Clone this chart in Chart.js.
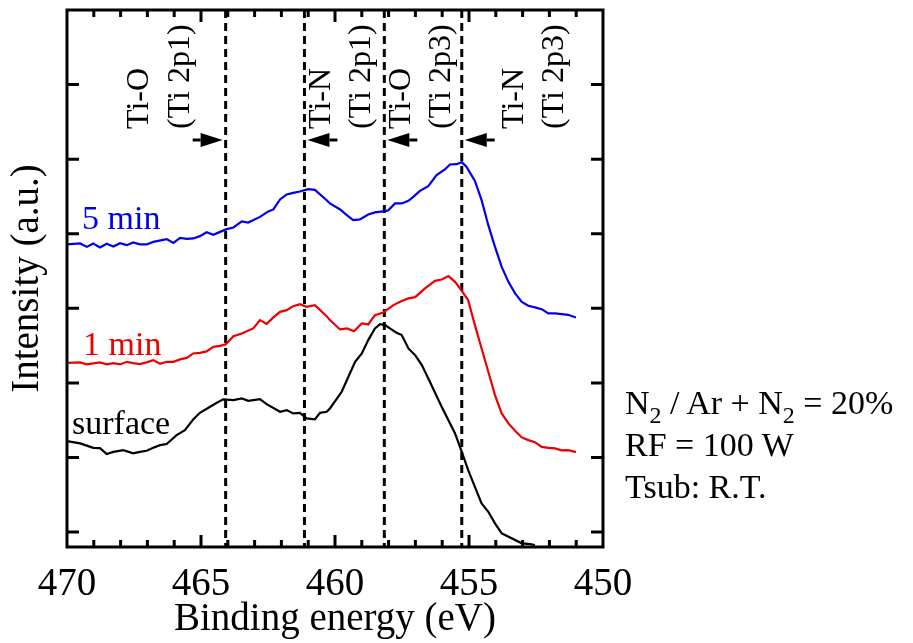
<!DOCTYPE html>
<html>
<head>
<meta charset="utf-8">
<script src="https://cdn.jsdelivr.net/npm/chart.js@4.4.1/dist/chart.umd.min.js"></script>
<style>
  html, body { margin: 0; padding: 0; background: #fff; }
  #wrap { position: relative; width: 913px; height: 643px; }
  #conditions {
    position: absolute; left: 625px; top: 382px;
    font: 34px 'Liberation Serif', 'Times New Roman', serif;
    line-height: 42px; color: #000; white-space: nowrap;
  }
  #conditions sub { font-size: 24px; vertical-align: -9px; line-height: 0; }
</style>
</head>
<body>
<div id="wrap">
  <canvas id="xpsChart" width="913" height="643"></canvas>
  <div id="conditions">N<sub>2</sub> / Ar + N<sub>2</sub> = 20%<br>RF = 100 W<br>Tsub: R.T.</div>
</div>
<script>
// Ti 2p spectra, binding energy (eV) vs intensity (a.u., offset per curve)
const energy5min = [470.00, 469.51, 469.26, 469.02, 468.77, 468.52, 468.27, 468.02, 467.77, 467.53, 467.28, 467.03, 466.78, 466.28, 466.03, 465.78, 465.53, 465.29, 465.04, 464.79, 464.54, 464.29, 464.04, 463.79, 463.48, 463.24, 462.80, 462.49, 462.30, 462.05, 461.80, 461.56, 461.31, 461.00, 460.75, 460.31, 460.19, 459.81, 459.56, 459.32, 459.07, 458.76, 458.51, 458.13, 458.01, 457.76, 457.51, 457.26, 457.08, 456.83, 456.52, 456.21, 455.90, 455.71, 455.46, 455.27, 455.09, 454.78, 454.53, 454.28, 454.03, 453.78, 453.53, 453.28, 453.03, 452.79, 452.54, 452.29, 452.04, 451.79, 451.54, 451.30, 451.01];
const intensity5min = [3.857, 3.870, 3.824, 3.870, 3.816, 3.865, 3.830, 3.874, 3.847, 3.883, 3.857, 3.857, 3.891, 3.928, 3.878, 3.945, 3.932, 3.937, 3.968, 4.021, 3.985, 4.025, 4.062, 4.084, 4.165, 4.151, 4.226, 4.299, 4.326, 4.460, 4.527, 4.548, 4.567, 4.598, 4.588, 4.450, 4.406, 4.326, 4.249, 4.182, 4.192, 4.259, 4.286, 4.303, 4.316, 4.406, 4.406, 4.441, 4.495, 4.575, 4.638, 4.786, 4.862, 4.929, 4.933, 4.960, 4.897, 4.709, 4.450, 4.115, 3.824, 3.556, 3.355, 3.200, 3.087, 3.034, 3.012, 2.989, 2.932, 2.932, 2.922, 2.913, 2.878];

const energy1min = [470.00, 469.51, 469.26, 469.02, 468.77, 468.52, 468.27, 468.02, 467.77, 467.53, 467.28, 467.03, 466.78, 466.53, 466.28, 466.03, 465.78, 465.53, 465.29, 465.04, 464.79, 464.54, 464.29, 464.08, 463.79, 463.48, 463.05, 462.80, 462.55, 462.30, 462.05, 461.80, 461.56, 461.31, 461.06, 460.75, 460.31, 460.19, 459.81, 459.56, 459.29, 459.00, 458.76, 458.51, 458.20, 457.82, 457.51, 457.26, 457.01, 456.64, 456.27, 456.02, 455.77, 455.52, 455.27, 455.03, 454.78, 454.53, 454.28, 454.03, 453.78, 453.53, 453.28, 453.03, 452.79, 452.54, 452.29, 452.04, 451.79, 451.54, 451.30, 451.01];
const intensity1min = [2.269, 2.275, 2.248, 2.261, 2.275, 2.248, 2.265, 2.248, 2.283, 2.265, 2.252, 2.275, 2.306, 2.256, 2.283, 2.283, 2.315, 2.336, 2.395, 2.403, 2.422, 2.484, 2.497, 2.516, 2.627, 2.663, 2.731, 2.842, 2.792, 2.878, 2.953, 2.976, 3.029, 3.056, 3.020, 3.043, 2.895, 2.842, 2.717, 2.731, 2.694, 2.798, 2.784, 2.909, 2.945, 3.043, 3.097, 3.133, 3.150, 3.267, 3.369, 3.387, 3.432, 3.355, 3.235, 3.110, 2.775, 2.462, 2.149, 1.836, 1.591, 1.457, 1.358, 1.269, 1.233, 1.206, 1.143, 1.130, 1.122, 1.095, 1.099, 1.072];

const energySurface = [470.00, 469.51, 469.02, 468.77, 468.52, 468.27, 467.90, 467.53, 467.28, 467.03, 466.78, 466.53, 466.28, 465.91, 465.60, 465.29, 465.04, 464.66, 464.41, 464.17, 463.79, 463.48, 463.24, 462.80, 462.55, 462.05, 461.80, 461.56, 461.31, 461.06, 460.75, 460.56, 460.31, 460.19, 459.75, 459.50, 459.25, 459.00, 458.76, 458.51, 458.32, 458.13, 457.95, 457.70, 457.51, 457.26, 457.01, 456.76, 456.46, 456.02, 455.52, 455.27, 455.03, 454.78, 454.53, 454.28, 454.03, 453.78, 453.41, 453.03, 452.72, 452.54];
const intensitySurface = [1.220, 1.189, 1.130, 1.126, 1.046, 1.076, 1.099, 1.055, 1.076, 1.090, 1.130, 1.166, 1.180, 1.300, 1.367, 1.511, 1.599, 1.680, 1.733, 1.779, 1.769, 1.792, 1.760, 1.783, 1.716, 1.613, 1.635, 1.591, 1.599, 1.524, 1.511, 1.599, 1.613, 1.658, 1.881, 2.082, 2.283, 2.395, 2.574, 2.731, 2.788, 2.775, 2.731, 2.672, 2.641, 2.462, 2.373, 2.239, 2.015, 1.680, 1.323, 1.076, 0.831, 0.607, 0.385, 0.272, 0.117, -0.017, -0.084, -0.151, -0.161, -0.174];

// reference peak positions (dashed lines)
const peakPositions = [464.08, 461.14, 458.16, 455.27];
const peakLabels = [['Ti-O', '(Ti 2p1)'], ['Ti-N', '(Ti 2p1)'], ['Ti-O', '(Ti 2p3)'], ['Ti-N', '(Ti 2p3)']];

const seriesNames = ['5 min', '1 min', 'surface'];
const seriesColors = ['#0000ee', '#ee0000', '#000000'];

const FONT = "'Liberation Serif', 'Times New Roman', serif";
Chart.defaults.font.family = FONT;
Chart.defaults.color = '#000';

const toPoints = (xs, ys) => xs.map((e, i) => ({ x: e, y: ys[i] }));

const curves = [
    toPoints(energy5min, intensity5min),
    toPoints(energy1min, intensity1min),
    toPoints(energySurface, intensitySurface)
].map((data, i) => ({
    label: seriesNames[i],
    data: data,
    borderColor: seriesColors[i],
    borderWidth: 2.2,
    pointRadius: 0,
    tension: 0,
    fill: false
}));

const Y_MIN = -0.2, Y_MAX = 7.0;

const peakLines = peakPositions.map(p => ({
    label: 'peak ' + p,
    data: [{ x: p, y: Y_MAX }, { x: p, y: Y_MIN }],
    borderColor: '#000',
    borderWidth: 3,
    borderDash: [8, 5],
    pointRadius: 0,
    fill: false
}));

// frame, inward ticks, arrows and text annotations
const decorations = {
    id: 'decorations',
    afterDatasetsDraw(chart) {
        const { ctx, chartArea: a, scales: { x, y } } = chart;
        ctx.save();

        ctx.strokeStyle = '#000';
        ctx.lineWidth = 3;
        ctx.strokeRect(a.left, a.top, a.right - a.left, a.bottom - a.top);

        ctx.beginPath();
        for (let e = 451; e < 470; e++) {
            const px = x.getPixelForValue(e);
            const len = e % 5 === 0 ? 12 : 7;
            ctx.moveTo(px, a.bottom); ctx.lineTo(px, a.bottom - len);
            ctx.moveTo(px, a.top); ctx.lineTo(px, a.top + len);
        }
        for (let v = 0; v <= 6; v++) {
            const py = y.getPixelForValue(v);
            ctx.moveTo(a.left, py); ctx.lineTo(a.left + 12, py);
            ctx.moveTo(a.right, py); ctx.lineTo(a.right - 12, py);
        }
        ctx.stroke();

        // arrows next to each dashed line; first one points right, others left
        const arrowY = 140;
        const textOffsets = [[-78, -37], [26, 66], [26, 66], [61, 101]];
        ctx.fillStyle = '#000';
        ctx.font = '32px ' + FONT;
        peakPositions.forEach((p, i) => {
            const px = x.getPixelForValue(p);
            const dir = i === 0 ? 1 : -1;
            const tip = px - dir * 3;
            const base = tip - dir * 22;
            const tail = tip - dir * 30;
            ctx.beginPath();
            ctx.moveTo(tip, arrowY);
            ctx.lineTo(base, arrowY - 7);
            ctx.lineTo(base, arrowY + 7);
            ctx.closePath();
            ctx.fill();
            ctx.beginPath();
            ctx.moveTo(base, arrowY);
            ctx.lineTo(tail, arrowY);
            ctx.stroke();

            peakLabels[i].forEach((line, j) => {
                ctx.save();
                ctx.translate(px + textOffsets[i][j], 129);
                ctx.rotate(-Math.PI / 2);
                ctx.textAlign = 'left';
                ctx.textBaseline = 'alphabetic';
                ctx.fillText(line, 0, 0);
                ctx.restore();
            });
        });

        // curve names
        ctx.font = '34px ' + FONT;
        ctx.textAlign = 'left';
        ctx.textBaseline = 'alphabetic';
        const namePos = [[82, 229], [83, 355], [72, 434]];
        seriesNames.forEach((name, i) => {
            ctx.fillStyle = seriesColors[i];
            ctx.fillText(name, namePos[i][0], namePos[i][1]);
        });

        ctx.restore();
    }
};

new Chart(document.getElementById('xpsChart'), {
    type: 'line',
    data: { datasets: [...curves, ...peakLines] },
    options: {
        responsive: false,
        animation: false,
        events: [],
        layout: { padding: { top: 10, right: 310, bottom: 0, left: 0 } },
        plugins: { legend: { display: false }, tooltip: { enabled: false } },
        scales: {
            x: {
                type: 'linear',
                reverse: true,
                min: 450,
                max: 470,
                afterFit: (s) => { s.height = 96; },
                border: { display: false },
                grid: { display: false, drawTicks: false },
                ticks: { stepSize: 5, padding: 14, maxRotation: 0, font: { size: 39 }, color: '#000' },
                title: { display: true, text: 'Binding energy (eV)', font: { size: 39 }, color: '#000', padding: 0 }
            },
            y: {
                type: 'linear',
                min: Y_MIN,
                max: Y_MAX,
                afterFit: (s) => { s.width = 67; },
                border: { display: false },
                grid: { display: false, drawTicks: false },
                ticks: { display: false },
                title: { display: true, text: 'Intensity (a.u.)', font: { size: 39 }, color: '#000', padding: { top: 4, bottom: 0 } }
            }
        }
    },
    plugins: [decorations]
});
</script>
</body>
</html>
